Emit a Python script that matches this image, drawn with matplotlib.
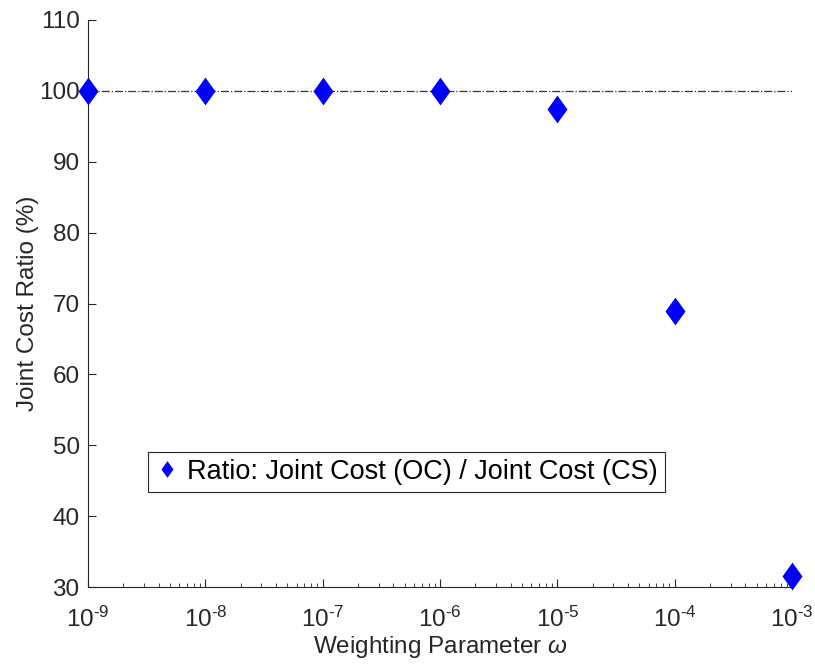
import numpy as np
import matplotlib
matplotlib.use("Agg")
import matplotlib.pyplot as plt

plt.rcParams["font.family"] = ["Liberation Sans", "DejaVu Sans"]
plt.rcParams["mathtext.fontset"] = "custom"
plt.rcParams["mathtext.rm"] = "Liberation Sans"
plt.rcParams["mathtext.it"] = "Liberation Sans:italic"

# data
omega = [1e-9, 1e-8, 1e-7, 1e-6, 1e-5, 1e-4, 1e-3]
exponents = [-9, -8, -7, -6, -5, -4, -3]
ratio = [100.0, 100.0, 100.0, 100.0, 97.5, 69.0, 31.5]
ref_level = 100

# wide diamond like the matlab one
diamond = [(0, 1), (0.72, 0), (0, -1), (-0.72, 0), (0, 1)]

fig = plt.figure(figsize=(8.15, 6.65), dpi=100)
ax = fig.add_axes([88 / 815, 1 - 587 / 665, (792 - 88) / 815, (587 - 20) / 665])

ax.axhline(ref_level, color="#333333", linestyle="-.", linewidth=0.9, zorder=1)
ax.plot(omega, ratio, linestyle="none", marker=diamond, markersize=20,
        color="#0000ff", markeredgewidth=0,
        label="Ratio: Joint Cost (OC) / Joint Cost (CS)",
        zorder=3, clip_on=False)

ax.set_xscale("log")
ax.set_xlim(1e-9, 1e-3)
ax.set_ylim(30, 110)
ax.set_yticks(np.arange(30, 111, 10))
ax.set_xticks(omega)
ax.set_xticklabels([r"10$^{\text{%d}}$" % e for e in exponents])

for s in ["top", "right"]:
    ax.spines[s].set_visible(False)
for s in ["left", "bottom"]:
    ax.spines[s].set_color("#262626")
    ax.spines[s].set_linewidth(0.8)

ax.tick_params(which="both", direction="in", colors="#262626", labelsize=17.5)
ax.tick_params(which="major", length=6)
ax.tick_params(which="minor", length=3)
ax.tick_params(axis="x", pad=14)
ax.tick_params(axis="y", pad=6)

ax.set_xlabel(r"Weighting Parameter $\omega$", fontsize=17.5, color="#262626", labelpad=2)
ax.set_ylabel("Joint Cost Ratio (%)", fontsize=17.5, color="#262626", labelpad=0)

leg = ax.legend(loc="lower left", bbox_to_anchor=(0.085, 0.168), fontsize=19.5,
                fancybox=False, framealpha=1, edgecolor="#262626",
                handletextpad=0.3, borderpad=0.25, borderaxespad=0,
                handlelength=0.9, markerscale=0.6)
leg.get_frame().set_linewidth(0.8)

fig.savefig("out.png", dpi=100)
